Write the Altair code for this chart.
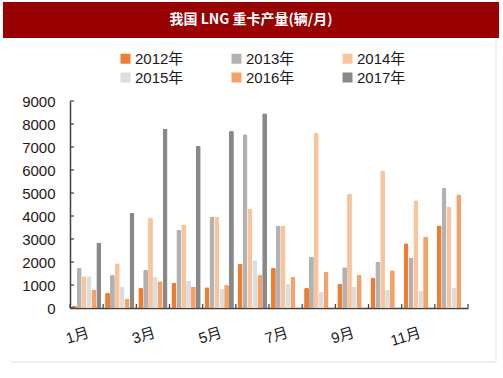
import altair as alt
import pandas as pd

months = [f"{i}月" for i in range(1, 13)]
odd_months = ["1月", "3月", "5月", "7月", "9月", "11月"]
years = ["2012年", "2013年", "2014年", "2015年", "2016年", "2017年"]

v2012 = [100, 650, 870, 1100, 900, 1910, 1740, 870, 1040, 1330, 2810, 3590]
v2013 = [1740, 1430, 1650, 3390, 3980, 7550, 3590, 2240, 1770, 2010, 2200, 5240]
v2014 = [1380, 1950, 3940, 3630, 3970, 4300, 3580, 7610, 4980, 5980, 4680, 4400]
v2015 = [1380, 910, 1360, 1200, 850, 2080, 1040, 710, 940, 780, 750, 870]
v2016 = [800, 400, 1160, 930, 1000, 1450, 1360, 1560, 1450, 1640, 3110, 4940]
v2017 = [2850, 4140, 7790, 7050, 7700, 8470, None, None, None, None, None, None]

colors = ["#ED7D31", "#B2B2B2", "#F8C49C", "#DDDDDD", "#F4A268", "#898989"]
y_ticks = list(range(0, 9001, 1000))

rows = []
for yr, vals in zip(years, [v2012, v2013, v2014, v2015, v2016, v2017]):
    for m, v in zip(months, vals):
        if v is not None:
            rows.append({"month": m, "year": yr, "value": v})
df = pd.DataFrame(rows)

W, H = 398, 207
FONT = "Liberation Sans, Noto Sans CJK SC"
AX = "#404040"

x_scale = alt.Scale(domain=months, paddingInner=0, paddingOuter=0)
y_scale = alt.Scale(domain=[0, 9000], nice=False, zero=True)

x_axis = alt.Axis(values=odd_months, labelAngle=343, labelAlign="right",
                  labelBaseline="top", labelPadding=17, ticks=False, tickSize=0,
                  labelFontSize=15, labelColor="#1a1a1a", labelFont=FONT,
                  domainColor=AX, domainWidth=1.5, grid=False, title=None)
y_axis = alt.Axis(values=y_ticks, format="d", ticks=False, tickSize=0, labelPadding=15,
                  labelFontSize=15, labelColor="#1a1a1a", labelFont=FONT,
                  domainColor=AX, domainWidth=1.5, grid=False, title=None)

bars = alt.Chart(df).mark_bar(cornerRadiusTopLeft=1.5, cornerRadiusTopRight=1.5).encode(
    x=alt.X("month:N", sort=months, scale=x_scale, title=None, axis=x_axis),
    xOffset=alt.XOffset("year:N", sort=years,
                        scale=alt.Scale(paddingInner=0, paddingOuter=0.4)),
    y=alt.Y("value:Q", scale=y_scale, title=None, axis=y_axis),
    color=alt.Color("year:N", sort=years, scale=alt.Scale(domain=years, range=colors),
                    legend=alt.Legend(title=None, orient="none", legendX=48, legendY=-50,
                                      direction="horizontal",
                                      columns=3, columnPadding=45, rowPadding=3,
                                      symbolType="square", symbolSize=100,
                                      symbolStrokeWidth=0, labelFontSize=15,
                                      labelOffset=2, labelFont=FONT,
                                      labelColor="#1a1a1a")),
)

yt = alt.Chart(pd.DataFrame({"value": y_ticks})).mark_rule(color=AX, strokeWidth=1.2).encode(
    y=alt.Y("value:Q", scale=y_scale, title=None, axis=y_axis),
    x=alt.value(0), x2=alt.value(4),
)

xt = alt.Chart(pd.DataFrame({"month": months})).mark_rule(color=AX, strokeWidth=1.2).encode(
    x=alt.X("month:N", sort=months, scale=x_scale, bandPosition=0, title=None, axis=x_axis),
    y=alt.value(H), y2=alt.value(H - 4),
)
xt_end = alt.Chart(alt.Data(values=[{}])).mark_rule(color=AX, strokeWidth=1.2).encode(
    x=alt.value(W), y=alt.value(H), y2=alt.value(H - 4),
)

title_bar = alt.Chart(alt.Data(values=[{}])).mark_rect(color="#990000").encode(
    x=alt.value(-67), x2=alt.value(429), y=alt.value(-99), y2=alt.value(-63),
)
title_text = alt.Chart(alt.Data(values=[{}])).mark_text(
    text="我国 LNG 重卡产量(辆/月)", color="white", fontSize=14, fontWeight="bold",
    font="Noto Sans CJK SC", align="center", baseline="middle",
).encode(x=alt.value(181), y=alt.value(-81))

border_r = alt.Chart(alt.Data(values=[{}])).mark_rule(color="#E3E3E3", strokeWidth=1).encode(
    x=alt.value(426), y=alt.value(-63), y2=alt.value(261),
)
border_b = alt.Chart(alt.Data(values=[{}])).mark_rule(color="#E3E3E3", strokeWidth=1).encode(
    x=alt.value(-59), x2=alt.value(426), y=alt.value(261),
)

chart = alt.layer(bars, yt, xt, xt_end, title_bar, title_text, border_r, border_b).properties(
    width=W, height=H,
    autosize=alt.AutoSizeParams(type="none"),
    padding={"left": 70, "top": 101, "right": 35, "bottom": 70},
    background="white",
).configure_view(stroke=None)

chart.save("out.html", embed_options={"renderer": "svg", "actions": False})
